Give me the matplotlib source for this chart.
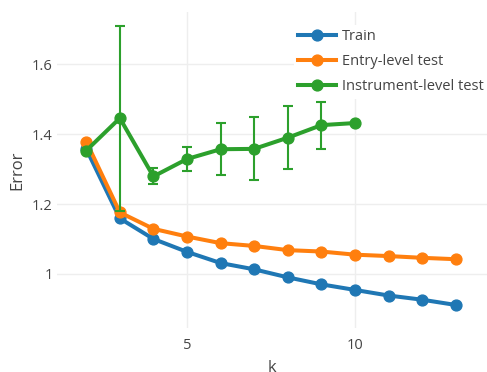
import matplotlib
matplotlib.use("Agg")
import matplotlib.pyplot as plt

k = [2, 3, 4, 5, 6, 7, 8, 9, 10, 11, 12, 13]
train = [1.358, 1.159, 1.100, 1.063, 1.031, 1.013, 0.990, 0.970, 0.954, 0.938, 0.926, 0.911]
entry_test = [1.379, 1.176, 1.129, 1.107, 1.088, 1.080, 1.068, 1.064, 1.055, 1.051, 1.046, 1.042]
k_instr = [2, 3, 4, 5, 6, 7, 8, 9, 10]
instr_test = [1.353, 1.446, 1.279, 1.329, 1.357, 1.358, 1.390, 1.426, 1.432]
instr_err = [0.0, 0.265, 0.023, 0.033, 0.075, 0.090, 0.091, 0.067, 0.0]

labels = ["Train", "Entry-level test", "Instrument-level test"]
colors = ["#1f77b4", "#ff7f0e", "#2ca02c"]
xticks = [5, 10]
yticks = [1.0, 1.2, 1.4, 1.6]
ytick_labels = ["1", "1.2", "1.4", "1.6"]

plt.rcParams['font.family'] = ['Open Sans', 'DejaVu Sans']

W, H = 487, 372
fig = plt.figure(figsize=(W / 100, H / 100), dpi=100)
left, right, bottom, top = 57, 487, 328, 12
ax = fig.add_axes([left / W, (H - bottom) / H, (right - left) / W, (bottom - top) / H])

lw = 2.9
ms = 7.8
ax.plot(k, train, color=colors[0], lw=lw, marker='o', ms=ms, label=labels[0], zorder=3)
ax.plot(k, entry_test, color=colors[1], lw=lw, marker='o', ms=ms, label=labels[1], zorder=4)
err_pts = [i for i, e in enumerate(instr_err) if e > 0]
ax.errorbar([k_instr[i] for i in err_pts], [instr_test[i] for i in err_pts],
            yerr=[instr_err[i] for i in err_pts], fmt='none', ecolor=colors[2],
            elinewidth=1.5, capsize=3.8, capthick=1.5, zorder=5)
ax.plot(k_instr, instr_test, color=colors[2], lw=lw, marker='o', ms=ms, label=labels[2], zorder=6)

ax.set_xlim(1.13, 13.93)
ax.set_ylim(0.845, 1.750)
ax.set_xticks(xticks)
ax.set_yticks(yticks)
ax.set_yticklabels(ytick_labels)
ax.grid(True, color='#eeeeee', lw=1.0, zorder=0)
ax.set_axisbelow(True)
for s in ax.spines.values():
    s.set_visible(False)
ax.tick_params(length=0, labelsize=10.5, labelcolor='#444444')
ax.tick_params(axis='x', pad=7)
ax.tick_params(axis='y', pad=3)
ax.set_xlabel('k', fontsize=12, color='#444444', labelpad=5)
ax.set_ylabel('Error', fontsize=12, color='#444444', labelpad=5)

leg = ax.legend(loc='upper left', bbox_to_anchor=(294 / W, 1 - 25 / H), bbox_transform=fig.transFigure,
                frameon=True, fontsize=10.5, handlelength=2.6, handletextpad=0.4,
                labelspacing=0.68, borderpad=0.3, borderaxespad=0)
leg.get_frame().set_facecolor('white')
leg.get_frame().set_edgecolor('none')
leg.get_frame().set_alpha(1)
for t in leg.get_texts():
    t.set_color('#444444')

fig.savefig('out.png', dpi=100)
